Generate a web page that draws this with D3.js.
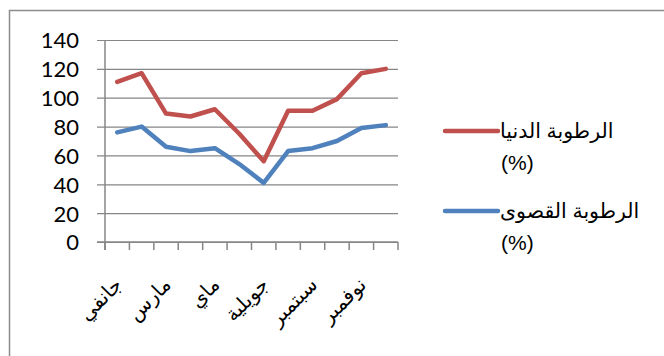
<!DOCTYPE html>
<html><head><meta charset="utf-8">
<script src="https://cdn.jsdelivr.net/npm/d3@7"></script>
<style>
html,body{margin:0;padding:0;background:#fff;}
svg{display:block;}
</style></head>
<body>
<svg id="chart" width="664" height="356"></svg>
<script>
const months = ["جانفي","فيفري","مارس","أفريل","ماي","جوان","جويلية","أوت","سبتمبر","أكتوبر","نوفمبر","ديسمبر"];
const minHumidity = [111,117,89,87,92,75,56,91,91,99,117,120];
const maxHumidity = [76,80,66,63,65,54,41,63,65,70,79,81];
const yTicks = [0,20,40,60,80,100,120,140];
const seriesNames = ["الرطوبة الدنيا","الرطوبة القصوى"];
const seriesUnit = "(%)";
const seriesColors = ["#C0504D","#4F81BD"];

(function(){
const svg = d3.select("#chart");
const pLeft = 105, pRight = 398, pTop = 40, pBottom = 242;

svg.append("rect").attr("x",9.5).attr("y",10.5).attr("width",700).attr("height",400)
  .attr("fill","#fff").attr("stroke","#8c8c8c").attr("stroke-width",1.5);

const x = d3.scaleBand().domain(months).range([pLeft,pRight]).paddingInner(0).paddingOuter(0);
const y = d3.scaleLinear().domain([0,140]).range([pBottom,pTop]);

const gAxisY = svg.append("g").attr("transform",`translate(${pLeft},0)`)
  .call(d3.axisLeft(y).tickValues(yTicks).tickSize(-(pRight-pLeft)).tickPadding(0).tickFormat(d3.format("d")));
gAxisY.select(".domain").remove();
gAxisY.selectAll(".tick line").attr("stroke","#868686").attr("stroke-width",1.2).attr("x1",-8);
gAxisY.selectAll(".tick text").attr("x",-26).attr("dy","0.36em")
  .attr("font-family","Lato, 'Liberation Sans', sans-serif").attr("font-size",22).attr("fill","#000");

svg.append("line").attr("x1",pLeft).attr("x2",pLeft).attr("y1",pTop).attr("y2",pBottom+8)
  .attr("stroke","#868686").attr("stroke-width",1.5);

const tickPos = months.map(m=>x(m)).concat([pRight]);
svg.append("g").selectAll("line").data(tickPos).join("line")
  .attr("x1",d=>d).attr("x2",d=>d).attr("y1",pBottom).attr("y2",pBottom+8)
  .attr("stroke","#868686").attr("stroke-width",1.5);
svg.append("line").attr("x1",pLeft-8).attr("x2",pRight).attr("y1",pBottom).attr("y2",pBottom)
  .attr("stroke","#868686").attr("stroke-width",1.5);

svg.append("g").selectAll("text").data(months.filter((m,i)=>i%2===0)).join("text")
  .attr("transform",d=>`translate(${x(d)+x.bandwidth()/2+6},${pBottom+44}) rotate(-45)`)
  .attr("text-anchor","end")
  .attr("font-family","'Liberation Sans','DejaVu Sans',sans-serif").attr("font-size",20).attr("fill","#000")
  .text(d=>d);

const line = d3.line().x((d,i)=>x(months[i])+x.bandwidth()/2).y(d=>y(d));
[minHumidity,maxHumidity].forEach((s,k)=>{
  svg.append("path").datum(s).attr("d",line).attr("fill","none")
    .attr("stroke",seriesColors[k]).attr("stroke-width",4.5)
    .attr("stroke-linejoin","round").attr("stroke-linecap","round");
});

const legY = [131,211];
seriesNames.forEach((n,k)=>{
  svg.append("line").attr("x1",445).attr("x2",498).attr("y1",legY[k]).attr("y2",legY[k])
    .attr("stroke",seriesColors[k]).attr("stroke-width",4.5).attr("stroke-linecap","round");
  svg.append("text").attr("x",500).attr("y",legY[k]+7).attr("text-anchor","start")
    .attr("font-family","'Liberation Sans','DejaVu Sans',sans-serif").attr("font-size",20.5).attr("fill","#000")
    .text(n);
  svg.append("text").attr("x",501).attr("y",legY[k]+39).attr("text-anchor","start")
    .attr("font-family","'Liberation Sans',sans-serif").attr("font-size",21).attr("fill","#000")
    .text(seriesUnit);
});
})();
</script>
</body></html>
